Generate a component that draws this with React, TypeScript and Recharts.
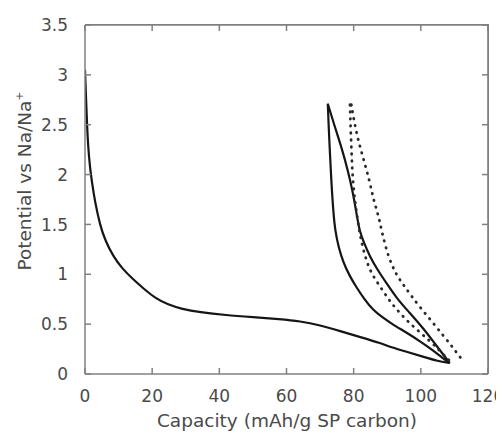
import { Line, LineChart, ReferenceLine, XAxis, YAxis } from "recharts";

const capacityTicks = [0, 20, 40, 60, 80, 100, 120];
const potentialTicks = [0, 0.5, 1, 1.5, 2, 2.5, 3, 3.5];

// [capacity mAh/g, potential V]
const firstDischarge: [number, number][] = [
  [0, 3.05], [0.3, 2.78], [0.6, 2.5], [1, 2.25], [1.5, 2.07], [2, 1.94],
  [3, 1.72], [4.5, 1.49], [6, 1.34], [8.4, 1.18], [11, 1.06], [14.3, 0.95],
  [18, 0.84], [21, 0.76], [24.4, 0.7], [29, 0.65], [34, 0.62], [42, 0.59],
  [50, 0.57], [58, 0.55], [64, 0.53], [70, 0.49], [76, 0.43], [82, 0.37],
  [88, 0.31], [91, 0.27], [96, 0.22], [101, 0.17], [105, 0.13], [108.6, 0.11],
];

const firstCharge: [number, number][] = [
  [72.3, 2.71], [74.2, 2.5], [76.5, 2.26], [78.2, 2.05], [79.6, 1.85],
  [80.8, 1.62], [81.7, 1.44], [83, 1.32], [84.8, 1.18], [87, 1.05],
  [89.8, 0.91], [92.8, 0.76], [96.5, 0.62], [100.7, 0.46], [104.5, 0.29],
  [108.6, 0.11],
];

const secondDischarge: [number, number][] = [
  [72.3, 2.71], [72.6, 2.45], [72.9, 2.24], [73.4, 1.9], [74, 1.6],
  [74.5, 1.44], [75.5, 1.27], [76.9, 1.12], [78.7, 0.99], [80.8, 0.87],
  [83.2, 0.75], [85.8, 0.64], [88.5, 0.57], [91.5, 0.5], [95.5, 0.42],
  [99.7, 0.33], [103.5, 0.24], [106.5, 0.16], [108.6, 0.11],
];

const dottedInner: [number, number][] = [
  [78.9, 2.7], [79.1, 2.45], [79.4, 2.2], [79.7, 1.95], [80.5, 1.7],
  [81.8, 1.4], [83.2, 1.2], [84.8, 1.04], [86.8, 0.93], [88.8, 0.83],
  [90.8, 0.73], [92.5, 0.66], [95.7, 0.54], [99, 0.44], [102.7, 0.33],
  [105.5, 0.24], [107.7, 0.16], [109, 0.12],
];

const dottedOuter: [number, number][] = [
  [79.3, 2.7], [80.8, 2.41], [82.8, 2.17], [84.8, 1.93], [85.8, 1.76],
  [87.3, 1.6], [88.3, 1.44], [90.3, 1.17], [92.8, 0.99], [94.7, 0.9],
  [97, 0.79], [100, 0.66], [103.7, 0.51], [106.8, 0.38], [109.7, 0.26],
  [111.6, 0.17], [113, 0.12],
];

const toPoints = (rows: [number, number][]) => rows.map(([x, y]) => ({ x, y }));

const axisColor = "#808080";
const textColor = "#4a4a4a";
const font = "DejaVu Sans";

// plot box edges inside the svg (from margins/axis sizes below)
const PLOT_LEFT = 77;
const PLOT_TOP = 17;
const PLOT_RIGHT = 480;
const PLOT_BOTTOM = 366;
const X_MARGIN = 16;
const Y_MARGIN = 17;
const TICK = 6;

function XTick(props: any) {
  const { x, y, payload } = props;
  const axisY = y - X_MARGIN;
  return (
    <g>
      <rect x={x - 0.75} y={axisY - TICK} width={1.5} height={TICK} fill={axisColor} />
      <rect x={x - 0.75} y={PLOT_TOP} width={1.5} height={TICK} fill={axisColor} />
      <text x={x} y={y} dy="0.71em" textAnchor="middle" fontFamily={font} fontSize={17} fill={textColor}>
        {payload.value}
      </text>
    </g>
  );
}

function YTick(props: any) {
  const { x, y, payload } = props;
  const axisX = x + Y_MARGIN;
  return (
    <g>
      <rect x={axisX} y={y - 0.75} width={TICK} height={1.5} fill={axisColor} />
      <rect x={PLOT_RIGHT - TICK} y={y - 0.75} width={TICK} height={1.5} fill={axisColor} />
      <text x={x} y={y} dy="0.36em" textAnchor="end" fontFamily={font} fontSize={17} fill={textColor}>
        {payload.value}
      </text>
    </g>
  );
}

function XTitle() {
  return (
    <text x={279} y={419} textAnchor="middle" fontFamily={font} fontSize={18.5} fill={textColor}>
      Capacity (mAh/g SP carbon)
    </text>
  );
}

function YTitle() {
  return (
    <text
      transform="translate(23, 173) rotate(-90)"
      textAnchor="middle"
      fontFamily={font}
      fontSize={18.5}
      fill={textColor}
    >
      Potential vs Na/Na<tspan fontSize={11} dy={-8}>+</tspan>
    </text>
  );
}

export default function App() {
  const solid = { stroke: "#151515", strokeWidth: 2.2 };
  const dotted = {
    stroke: "#2a2a2a",
    strokeWidth: 2.8,
    strokeDasharray: "0.5 6.5",
    strokeLinecap: "round" as const,
  };
  return (
    <div style={{ position: "relative", width: 496, height: 428 }}>
      <LineChart
        width={496}
        height={428}
        margin={{ top: PLOT_TOP, right: 16, bottom: 22, left: 20 }}
      >
        <XAxis
          dataKey="x"
          type="number"
          domain={[0, 120]}
          ticks={capacityTicks}
          allowDataOverflow
          height={40}
          tickSize={0}
          tickLine={false}
          tickMargin={X_MARGIN}
          tick={<XTick />}
          stroke={axisColor}
          strokeWidth={1.5}
          label={<XTitle />}
        />
        <YAxis
          dataKey="y"
          type="number"
          domain={[0, 3.5]}
          ticks={potentialTicks}
          allowDataOverflow
          width={57}
          tickSize={0}
          tickLine={false}
          tickMargin={Y_MARGIN}
          tick={<YTick />}
          stroke={axisColor}
          strokeWidth={1.5}
          label={<YTitle />}
        />
        <ReferenceLine y={3.499} stroke={axisColor} strokeWidth={1.5} ifOverflow="visible" />
        <ReferenceLine x={119.98} stroke={axisColor} strokeWidth={1.5} ifOverflow="visible" />
        <Line data={toPoints(firstDischarge)} dataKey="y" type="basis" {...solid} dot={false} isAnimationActive={false} />
        <Line data={toPoints(firstCharge)} dataKey="y" type="basis" {...solid} dot={false} isAnimationActive={false} />
        <Line data={toPoints(secondDischarge)} dataKey="y" type="basis" {...solid} dot={false} isAnimationActive={false} />
        <Line data={toPoints(dottedInner)} dataKey="y" type="basis" {...dotted} dot={false} isAnimationActive={false} />
        <Line data={toPoints(dottedOuter)} dataKey="y" type="basis" {...dotted} dot={false} isAnimationActive={false} />
      </LineChart>
      {/* top and right edges of the box */}
      <div
        style={{
          position: "absolute",
          left: PLOT_LEFT,
          top: PLOT_TOP - 0.75,
          width: PLOT_RIGHT - PLOT_LEFT + 0.75,
          height: PLOT_BOTTOM - PLOT_TOP + 0.75,
          boxSizing: "border-box",
          borderTop: `1.5px solid ${axisColor}`,
          borderRight: `1.5px solid ${axisColor}`,
          pointerEvents: "none",
        }}
      />
    </div>
  );
}
